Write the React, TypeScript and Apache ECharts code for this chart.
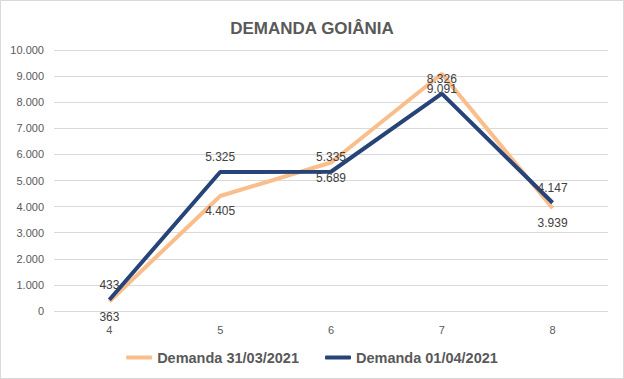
import React, { useEffect, useRef } from "react";
import * as echarts from "echarts";

const categories = ["4", "5", "6", "7", "8"];
const demanda3103 = [363, 4405, 5689, 9091, 3939];
const demanda0104 = [433, 5325, 5335, 8326, 4147];
const seriesNames = ["Demanda 31/03/2021", "Demanda 01/04/2021"];

const fmt = (v: number) => v.toLocaleString("de-DE");

export default function App() {
  const ref = useRef<HTMLDivElement>(null);
  useEffect(() => {
    document.body.style.margin = "0";
    const chart = echarts.init(ref.current!, null, { renderer: "svg" });
    const font = "'Liberation Sans', Arial, sans-serif";
    const lbl = (pos: string) => ({
      show: true,
      position: pos,
      distance: 9,
      fontFamily: font,
      fontSize: 12,
      color: "#404040",
      opacity: 1,
      formatter: (p: any) => fmt(p.value),
    });
    chart.setOption({
      animation: false,
      title: {
        text: "DEMANDA GOIÂNIA",
        left: "center",
        top: 14,
        textStyle: { fontFamily: font, fontSize: 17, fontWeight: "bold", color: "#595959" },
      },
      grid: { left: 53, right: 15, top: 49, bottom: 67 },
      legend: {
        bottom: 8,
        left: "center",
        itemWidth: 26,
        itemHeight: 4,
        itemGap: 26,
        icon: "roundRect",
        itemStyle: { opacity: 1 },
        textStyle: { fontFamily: font, fontSize: 14.5, fontWeight: "bold", color: "#595959" },
        data: seriesNames,
      },
      xAxis: {
        type: "category",
        data: categories,
        boundaryGap: true,
        axisLine: { show: false },
        axisTick: { show: false },
        axisLabel: { fontFamily: font, fontSize: 11, color: "#595959", margin: 13 },
      },
      yAxis: {
        type: "value",
        min: 0,
        max: 10000,
        interval: 1000,
        axisLine: { show: false },
        axisTick: { show: false },
        splitLine: { lineStyle: { color: "#d9d9d9", width: 1 } },
        axisLabel: { fontFamily: font, fontSize: 11, color: "#595959", margin: 10, formatter: (v: number) => fmt(v) },
      },
      series: [
        {
          name: seriesNames[0],
          type: "line",
          data: demanda3103,
          symbol: "circle",
          symbolSize: 0,
          showSymbol: true,
          lineStyle: { color: "#F9BE8C", width: 4 },
          itemStyle: { color: "#F9BE8C" },
          label: lbl("bottom"),
        },
        {
          name: seriesNames[1],
          type: "line",
          data: demanda0104,
          symbol: "circle",
          symbolSize: 0,
          showSymbol: true,
          lineStyle: { color: "#264478", width: 4 },
          itemStyle: { color: "#264478" },
          label: lbl("top"),
        },
      ],
    });
    return () => chart.dispose();
  }, []);
  return (
    <div
      ref={ref}
      style={{
        position: "absolute",
        left: 0,
        top: 0,
        width: 624,
        height: 379,
        border: "1px solid #d9d9d9",
        boxSizing: "border-box",
        background: "#fff",
      }}
    />
  );
}
